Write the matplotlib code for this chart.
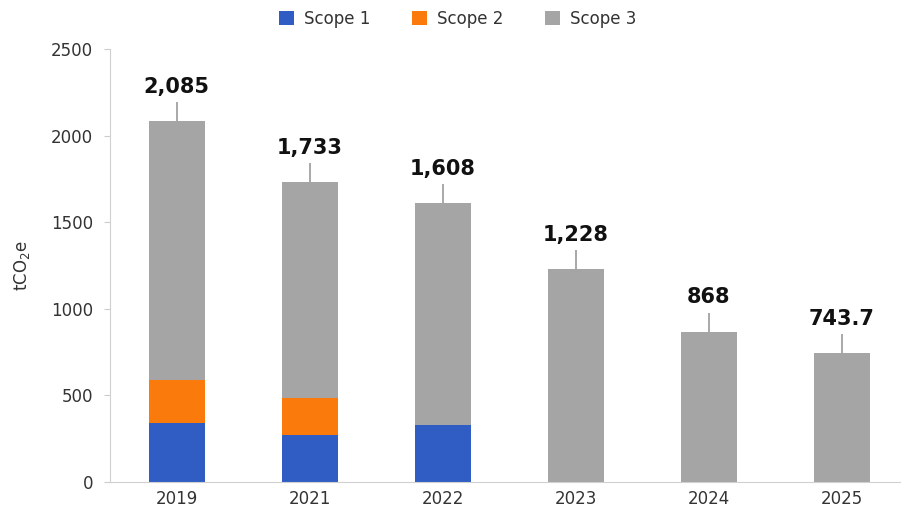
import numpy as np
import matplotlib.pyplot as plt

years = ['2019', '2021', '2022', '2023', '2024', '2025']
scope1 = [340, 271, 329, 0, 0, 0]
scope2 = [250, 214, 0, 0, 0, 0]
totals = [2085, 1733, 1608, 1228, 868, 743.7]
labels = ['2,085', '1,733', '1,608', '1,228', '868', '743.7']
err_up = [110, 110, 110, 110, 110, 110]

scope3 = [t - a - b for t, a, b in zip(totals, scope1, scope2)]

blue = '#2F5DC4'
orange = '#FA7A0C'
grey = '#A5A5A5'
txt = '#333333'

fig = plt.figure(figsize=(9.07, 5.2), dpi=100)
ax = fig.add_axes([0.121, 0.073, 0.871, 0.833])

x = np.arange(len(years))
w = 0.42
ax.bar(x, scope1, w, color=blue, label='Scope 1')
ax.bar(x, scope2, w, bottom=scope1, color=orange, label='Scope 2')
bottom3 = [a + b for a, b in zip(scope1, scope2)]
ax.bar(x, scope3, w, bottom=bottom3, color=grey, label='Scope 3')

# thin whisker above each bar
ax.errorbar(x, totals, yerr=[np.zeros(len(x)), err_up], fmt='none',
            ecolor='#9a9a9a', elinewidth=1.2, capsize=0)

for xi, t, e, lab in zip(x, totals, err_up, labels):
    ax.text(xi, t + e + 30, lab, ha='center', va='bottom',
            fontsize=15, fontweight='bold', color='#111111')

ax.set_xlim(-0.504, 5.436)
ax.set_ylim(0, 2500)
ax.set_yticks([0, 500, 1000, 1500, 2000, 2500])
ax.set_xticks(x)
ax.set_xticklabels(years)
ax.tick_params(axis='both', labelsize=12, colors=txt)
ax.tick_params(axis='x', length=0, pad=6)
ax.tick_params(axis='y', length=4, color='#cccccc', pad=8)
for s in ['top', 'right']:
    ax.spines[s].set_visible(False)
ax.spines['left'].set_color('#d0d0d0')
ax.spines['bottom'].set_color('#d0d0d0')
ax.set_ylabel('tCO$_2$e', fontsize=12, color=txt, labelpad=14)

fig.legend(loc='upper center', bbox_to_anchor=(0.505, 1.01), ncol=3,
           frameon=False, fontsize=12, handlelength=0.9, handleheight=0.9,
           columnspacing=2.5, handletextpad=0.6, labelcolor=txt)

plt.savefig('out.png', dpi=100)
